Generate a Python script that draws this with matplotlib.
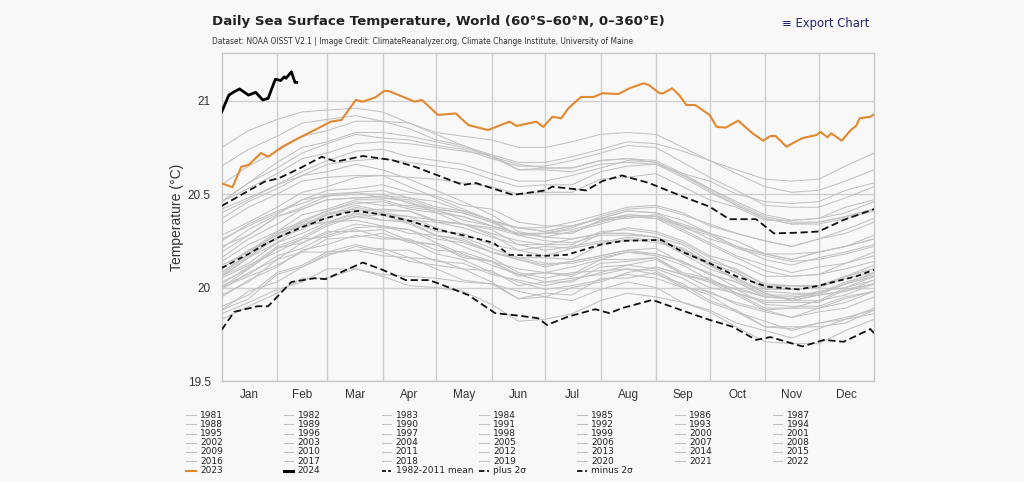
import numpy as np
import matplotlib
matplotlib.use("Agg")
import matplotlib.pyplot as plt
from matplotlib.lines import Line2D

# ---------------- data ----------------
DAYS = [0, 15, 31, 45, 59, 75, 90, 105, 120, 135, 151, 166, 181, 196, 212, 227,
        243, 258, 273, 288, 304, 319, 334, 349, 365]
N = None
years = {
    1981: [N, N, N, N, N, N, N, N, N, N, N, N, N, N, N, N,
           20.11, 20.07, 20.00, 19.97, 19.89, 19.89, 19.93, 19.96, 20.02],
    1982: [20.00, 20.06, 20.12, 20.19, 20.19, 20.20, 20.17, 20.16, 20.10, 20.04, 20.02, 19.98, 19.95,
           20.00, 20.03, 20.08, 20.11, 20.07, 20.03, 19.99, 19.95, 19.94, 19.97, 20.02, 20.08],
    1983: [20.08, 20.18, 20.29, 20.33, 20.40, 20.42, 20.39, 20.34, 20.28, 20.22, 20.16, 20.08, 20.05,
           20.08, 20.09, 20.10, 20.09, 20.01, 19.96, 19.87, 19.82, 19.77, 19.81, 19.84, 19.88],
    1984: [19.88, 19.98, 20.03, 20.11, 20.17, 20.22, 20.19, 20.14, 20.12, 20.10, 20.03, 19.94, 19.95,
           19.93, 19.99, 20.03, 20.00, 19.92, 19.87, 19.79, 19.71, 19.70, 19.70, 19.77, 19.83],
    1985: [19.83, 19.90, 19.97, 20.05, 20.05, 20.10, 20.06, 20.01, 20.00, 19.98, 19.91, 19.82, 19.83,
           19.86, 19.93, 19.97, 19.95, 19.92, 19.88, 19.81, 19.77, 19.73, 19.78, 19.83, 19.86],
    1986: [19.88, 19.94, 20.07, 20.11, 20.18, 20.20, 20.21, 20.16, 20.15, 20.10, 20.09, 20.01, 20.03,
           20.03, 20.11, 20.12, 20.15, 20.07, 20.04, 19.97, 19.93, 19.93, 19.93, 20.00, 20.04],
    1987: [20.06, 20.16, 20.27, 20.31, 20.39, 20.44, 20.41, 20.41, 20.35, 20.34, 20.28, 20.20, 20.22,
           20.21, 20.29, 20.29, 20.27, 20.23, 20.14, 20.10, 20.01, 20.01, 20.00, 20.05, 20.08],
    1988: [20.08, 20.18, 20.29, 20.33, 20.35, 20.36, 20.33, 20.31, 20.24, 20.18, 20.12, 20.07, 20.03,
           20.05, 20.07, 20.10, 20.07, 20.02, 19.93, 19.88, 19.79, 19.79, 19.79, 19.81, 19.88],
    1989: [19.86, 19.92, 19.99, 20.03, 20.10, 20.10, 20.07, 20.06, 20.05, 20.03, 20.02, 19.94, 19.97,
           19.96, 20.05, 20.05, 20.08, 20.00, 19.98, 19.91, 19.87, 19.84, 19.89, 19.92, 19.98],
    1990: [20.00, 20.10, 20.21, 20.26, 20.33, 20.38, 20.36, 20.36, 20.30, 20.29, 20.23, 20.20, 20.17,
           20.21, 20.24, 20.27, 20.25, 20.21, 20.12, 20.08, 19.99, 19.99, 20.00, 20.06, 20.10],
    1991: [20.10, 20.20, 20.26, 20.34, 20.35, 20.40, 20.36, 20.35, 20.28, 20.26, 20.19, 20.15, 20.11,
           20.14, 20.17, 20.20, 20.18, 20.14, 20.07, 20.03, 19.95, 19.94, 19.98, 20.00, 20.06],
    1992: [20.05, 20.12, 20.19, 20.26, 20.27, 20.31, 20.27, 20.25, 20.18, 20.15, 20.08, 20.03, 19.99,
           20.01, 20.04, 20.07, 20.05, 20.00, 19.92, 19.87, 19.79, 19.78, 19.81, 19.83, 19.89],
    1993: [19.90, 19.96, 20.08, 20.12, 20.19, 20.23, 20.20, 20.20, 20.14, 20.13, 20.07, 20.04, 20.01,
           20.04, 20.08, 20.12, 20.10, 20.05, 19.97, 19.92, 19.88, 19.84, 19.87, 19.89, 19.95],
    1994: [19.95, 20.04, 20.11, 20.20, 20.23, 20.28, 20.26, 20.26, 20.20, 20.19, 20.14, 20.10, 20.08,
           20.11, 20.15, 20.19, 20.18, 20.14, 20.07, 20.03, 19.96, 19.96, 19.97, 20.03, 20.07],
    1995: [20.07, 20.17, 20.27, 20.35, 20.37, 20.43, 20.40, 20.38, 20.32, 20.27, 20.21, 20.16, 20.13,
           20.13, 20.16, 20.19, 20.17, 20.12, 20.04, 19.99, 19.91, 19.90, 19.90, 19.95, 19.98],
    1996: [19.96, 20.03, 20.15, 20.19, 20.26, 20.27, 20.29, 20.24, 20.23, 20.17, 20.14, 20.06, 20.08,
           20.07, 20.15, 20.15, 20.16, 20.08, 20.05, 19.97, 19.92, 19.92, 19.92, 19.99, 20.02],
    1997: [20.02, 20.11, 20.22, 20.27, 20.34, 20.38, 20.39, 20.38, 20.36, 20.34, 20.32, 20.28, 20.29,
           20.32, 20.38, 20.42, 20.43, 20.39, 20.34, 20.29, 20.25, 20.22, 20.26, 20.29, 20.35],
    1998: [20.34, 20.43, 20.50, 20.57, 20.59, 20.60, 20.60, 20.54, 20.48, 20.42, 20.36, 20.28, 20.25,
           20.24, 20.28, 20.28, 20.27, 20.19, 20.12, 20.04, 19.97, 19.93, 19.96, 19.98, 20.04],
    1999: [20.03, 20.10, 20.21, 20.24, 20.30, 20.30, 20.31, 20.25, 20.23, 20.16, 20.14, 20.07, 20.08,
           20.06, 20.13, 20.14, 20.16, 20.07, 20.03, 19.96, 19.88, 19.89, 19.89, 19.94, 19.98],
    2000: [19.99, 20.08, 20.15, 20.24, 20.29, 20.34, 20.32, 20.31, 20.26, 20.24, 20.19, 20.15, 20.12,
           20.14, 20.17, 20.20, 20.21, 20.13, 20.08, 20.00, 19.95, 19.95, 19.96, 20.02, 20.06],
    2001: [20.06, 20.16, 20.24, 20.33, 20.39, 20.41, 20.42, 20.41, 20.36, 20.34, 20.29, 20.25, 20.23,
           20.26, 20.29, 20.32, 20.30, 20.25, 20.17, 20.13, 20.06, 20.06, 20.07, 20.13, 20.17],
    2002: [20.16, 20.26, 20.34, 20.42, 20.47, 20.48, 20.49, 20.48, 20.43, 20.41, 20.36, 20.32, 20.30,
           20.33, 20.37, 20.41, 20.40, 20.36, 20.29, 20.25, 20.18, 20.18, 20.19, 20.22, 20.26],
    2003: [20.26, 20.33, 20.40, 20.47, 20.49, 20.50, 20.50, 20.45, 20.42, 20.36, 20.33, 20.29, 20.27,
           20.30, 20.34, 20.38, 20.37, 20.33, 20.26, 20.22, 20.15, 20.12, 20.16, 20.19, 20.23],
    2004: [20.22, 20.28, 20.38, 20.42, 20.47, 20.48, 20.48, 20.47, 20.42, 20.40, 20.35, 20.28, 20.29,
           20.29, 20.36, 20.37, 20.39, 20.32, 20.28, 20.21, 20.17, 20.14, 20.15, 20.18, 20.22],
    2005: [20.21, 20.31, 20.39, 20.47, 20.52, 20.53, 20.55, 20.51, 20.49, 20.44, 20.42, 20.35, 20.33,
           20.33, 20.37, 20.38, 20.37, 20.30, 20.23, 20.16, 20.09, 20.06, 20.07, 20.10, 20.14],
    2006: [20.14, 20.23, 20.30, 20.39, 20.42, 20.47, 20.47, 20.43, 20.41, 20.38, 20.33, 20.29, 20.29,
           20.29, 20.36, 20.39, 20.38, 20.34, 20.29, 20.22, 20.18, 20.15, 20.19, 20.22, 20.26],
    2007: [20.25, 20.34, 20.41, 20.45, 20.50, 20.51, 20.48, 20.46, 20.40, 20.34, 20.31, 20.23, 20.20,
           20.22, 20.25, 20.25, 20.26, 20.18, 20.10, 20.05, 19.97, 19.93, 19.96, 19.98, 20.02],
    2008: [20.01, 20.07, 20.17, 20.21, 20.28, 20.32, 20.33, 20.29, 20.28, 20.25, 20.19, 20.16, 20.16,
           20.15, 20.23, 20.26, 20.24, 20.21, 20.13, 20.08, 20.00, 20.01, 20.01, 20.06, 20.10],
    2009: [20.10, 20.20, 20.28, 20.36, 20.41, 20.46, 20.44, 20.44, 20.42, 20.40, 20.35, 20.32, 20.32,
           20.35, 20.39, 20.43, 20.44, 20.40, 20.33, 20.29, 20.25, 20.22, 20.26, 20.31, 20.37],
    2010: [20.37, 20.46, 20.53, 20.60, 20.62, 20.66, 20.63, 20.58, 20.52, 20.46, 20.39, 20.30, 20.27,
           20.26, 20.29, 20.29, 20.27, 20.20, 20.12, 20.05, 19.98, 19.97, 19.97, 20.02, 20.06],
    2011: [20.06, 20.13, 20.24, 20.29, 20.35, 20.39, 20.40, 20.36, 20.35, 20.32, 20.27, 20.23, 20.23,
           20.23, 20.30, 20.31, 20.29, 20.24, 20.16, 20.09, 20.02, 20.01, 20.01, 20.06, 20.12],
    2012: [20.12, 20.19, 20.30, 20.35, 20.41, 20.45, 20.46, 20.42, 20.40, 20.38, 20.33, 20.29, 20.29,
           20.31, 20.35, 20.39, 20.38, 20.31, 20.24, 20.17, 20.12, 20.08, 20.11, 20.13, 20.19],
    2013: [20.19, 20.28, 20.38, 20.43, 20.49, 20.51, 20.52, 20.48, 20.46, 20.41, 20.36, 20.32, 20.30,
           20.33, 20.37, 20.41, 20.40, 20.33, 20.29, 20.22, 20.18, 20.15, 20.19, 20.22, 20.28],
    2014: [20.28, 20.35, 20.43, 20.51, 20.54, 20.59, 20.60, 20.59, 20.58, 20.56, 20.54, 20.50, 20.51,
           20.51, 20.58, 20.59, 20.61, 20.54, 20.47, 20.43, 20.36, 20.36, 20.37, 20.43, 20.47],
    2015: [20.46, 20.53, 20.61, 20.69, 20.72, 20.77, 20.78, 20.77, 20.75, 20.73, 20.71, 20.67, 20.67,
           20.70, 20.74, 20.78, 20.77, 20.73, 20.68, 20.63, 20.58, 20.57, 20.58, 20.65, 20.72],
    2016: [20.75, 20.84, 20.90, 20.94, 20.95, 20.96, 20.94, 20.88, 20.82, 20.76, 20.71, 20.63, 20.63,
           20.62, 20.66, 20.67, 20.66, 20.59, 20.51, 20.44, 20.37, 20.34, 20.35, 20.38, 20.42],
    2017: [20.46, 20.56, 20.67, 20.75, 20.78, 20.83, 20.83, 20.81, 20.78, 20.75, 20.70, 20.66, 20.64,
           20.64, 20.68, 20.69, 20.68, 20.61, 20.53, 20.45, 20.38, 20.35, 20.35, 20.38, 20.42],
    2018: [20.40, 20.47, 20.55, 20.60, 20.66, 20.68, 20.69, 20.67, 20.65, 20.63, 20.58, 20.54, 20.55,
           20.55, 20.62, 20.65, 20.66, 20.61, 20.57, 20.50, 20.46, 20.45, 20.46, 20.52, 20.56],
    2019: [20.55, 20.65, 20.73, 20.81, 20.84, 20.89, 20.89, 20.88, 20.83, 20.81, 20.79, 20.75, 20.75,
           20.78, 20.82, 20.83, 20.82, 20.75, 20.68, 20.61, 20.54, 20.51, 20.52, 20.57, 20.63],
    2020: [20.65, 20.74, 20.81, 20.88, 20.90, 20.92, 20.89, 20.85, 20.79, 20.76, 20.70, 20.63, 20.64,
           20.64, 20.68, 20.69, 20.67, 20.60, 20.52, 20.44, 20.37, 20.34, 20.34, 20.37, 20.41],
    2021: [20.42, 20.48, 20.55, 20.62, 20.68, 20.73, 20.74, 20.70, 20.68, 20.66, 20.61, 20.57, 20.57,
           20.60, 20.64, 20.68, 20.67, 20.60, 20.53, 20.46, 20.39, 20.36, 20.37, 20.40, 20.46],
    2022: [20.46, 20.56, 20.64, 20.72, 20.77, 20.82, 20.80, 20.79, 20.76, 20.74, 20.69, 20.65, 20.65,
           20.68, 20.72, 20.76, 20.75, 20.67, 20.59, 20.52, 20.44, 20.43, 20.43, 20.48, 20.54],
}

mean_days = [0, 15, 24, 32, 44, 58, 69, 76, 90, 106, 121, 135, 152, 161, 181, 193, 212, 225,
             246, 258, 273, 288, 305, 323, 334, 355, 365]
mean_vals = [20.105, 20.18, 20.23, 20.27, 20.32, 20.37, 20.40, 20.41, 20.39, 20.355, 20.31, 20.28,
             20.24, 20.175, 20.17, 20.175, 20.23, 20.25, 20.255, 20.19, 20.13, 20.06, 20.005, 19.99,
             20.01, 20.06, 20.095]

plus_days = [0, 24, 32, 44, 56, 64, 79, 95, 108, 121, 135, 142, 163, 181, 185, 204, 213, 224,
             239, 258, 273, 284, 299, 309, 323, 334, 348, 365]
plus_vals = [20.437, 20.567, 20.585, 20.64, 20.70, 20.674, 20.704, 20.683, 20.647, 20.60, 20.549,
             20.56, 20.496, 20.52, 20.54, 20.52, 20.57, 20.60, 20.56, 20.487, 20.433, 20.366, 20.366,
             20.29, 20.294, 20.30, 20.362, 20.42]

minus_days = [0, 7, 20, 26, 39, 52, 58, 79, 90, 103, 116, 121, 138, 153, 166, 177, 182, 194, 209,
              217, 224, 241, 262, 273, 286, 299, 307, 325, 337, 348, 363, 365]
minus_vals = [19.774, 19.87, 19.90, 19.90, 20.03, 20.05, 20.045, 20.134, 20.095, 20.04, 20.04, 20.023,
              19.96, 19.863, 19.85, 19.836, 19.80, 19.845, 19.884, 19.863, 19.89, 19.934, 19.863,
              19.827, 19.79, 19.72, 19.735, 19.685, 19.72, 19.71, 19.778, 19.756]

y2023_days = [0, 6, 11, 15, 22, 26, 34, 43, 52, 61, 67, 75, 79, 86, 91, 94, 108, 112, 121, 131, 138,
              149, 161, 165, 176, 180, 185, 190, 194, 201, 208, 213, 222, 228, 236, 239, 245, 247,
              252, 256, 260, 265, 273, 277, 282, 289, 297, 303, 307, 310, 316, 320, 325, 333, 335,
              339, 341, 347, 352, 355, 357, 363, 365]
y2023_vals = [20.558, 20.537, 20.647, 20.656, 20.72, 20.70, 20.754, 20.80, 20.843, 20.888, 20.897,
              21.004, 20.995, 21.018, 21.053, 21.05, 20.995, 21.004, 20.924, 20.932, 20.87, 20.843,
              20.888, 20.865, 20.888, 20.86, 20.914, 20.906, 20.96, 21.02, 21.02, 21.04, 21.036,
              21.066, 21.093, 21.084, 21.04, 21.04, 21.066, 21.03, 20.977, 20.977, 20.924, 20.86,
              20.856, 20.893, 20.826, 20.786, 20.811, 20.811, 20.754, 20.775, 20.80, 20.817, 20.834,
              20.804, 20.826, 20.786, 20.843, 20.865, 20.906, 20.914, 20.927]

y2024_days = [0, 4, 7, 10, 15, 19, 23, 26, 30, 33, 35, 36, 39, 41, 42]
y2024_vals = [20.94, 21.03, 21.048, 21.063, 21.03, 21.045, 21.004, 21.013, 21.115, 21.108, 21.128,
              21.12, 21.155, 21.098, 21.098]

month_labels = ["Jan", "Feb", "Mar", "Apr", "May", "Jun", "Jul", "Aug", "Sep", "Oct", "Nov", "Dec"]
month_starts = [0, 31, 59, 90, 120, 151, 181, 212, 243, 273, 304, 334, 365]
y_ticks = [19.5, 20, 20.5, 21]
y_tick_labels = ["19.5", "20", "20.5", "21"]

# ---------------- style ----------------
BG = "#f8f8f8"
GRAY = "#c2c2c2"
ORANGE = "#e2882f"
GRID = "#cfcfcf"
TXT = "#333333"

W, H = 1024, 482
fig = plt.figure(figsize=(W / 100, H / 100), dpi=100, facecolor=BG)
ax = fig.add_axes([221.7 / W, 1 - 381 / H, (874 - 221.7) / W, (381 - 52.7) / H])
ax.set_facecolor(BG)

for yr, vals in years.items():
    v = np.array([np.nan if x is None else x for x in vals], dtype=float)
    ax.plot(DAYS, v, color=GRAY, lw=0.75, zorder=2)

ax.plot(mean_days, mean_vals, color="#111111", lw=1.3, ls=(0, (3, 2)), zorder=3)
ax.plot(plus_days, plus_vals, color="#111111", lw=1.3, ls=(0, (4, 2)), zorder=3)
ax.plot(minus_days, minus_vals, color="#111111", lw=1.3, ls=(0, (4, 2)), zorder=3)
ax.plot(y2023_days, y2023_vals, color=ORANGE, lw=1.5, zorder=4)
ax.plot(y2024_days, y2024_vals, color="#000000", lw=2.0, zorder=5)

ax.set_xlim(0, 365)
ax.set_ylim(19.5, 21.257)
centers = [(month_starts[i] + month_starts[i + 1]) / 2 for i in range(12)]
ax.set_xticks(centers)
ax.set_xticklabels(month_labels, fontsize=8.5, color=TXT, family="Liberation Sans")
ax.set_xticks(month_starts[1:-1], minor=True)
ax.set_yticks(y_ticks)
ax.set_yticklabels(y_tick_labels, fontsize=8.5, color=TXT, family="Liberation Sans")
ax.tick_params(axis="both", which="both", length=0)
ax.tick_params(axis="x", pad=6)
ax.tick_params(axis="y", pad=8)
ax.grid(True, axis="x", which="minor", color=GRID, lw=1.0, zorder=0)
ax.grid(True, axis="y", which="major", color=GRID, lw=1.0, zorder=0)
ax.set_axisbelow(True)
for s in ax.spines.values():
    s.set_color("#c8c8c8")
    s.set_linewidth(1.0)

fig.text(177 / W, 1 - 217 / H, "Temperature (°C)", rotation=90, ha="center", va="center",
         fontsize=10, color=TXT, family="Liberation Sans")

# ---------------- header text ----------------
renderer = fig.canvas.get_renderer()


def fitted(x, y, s, target_w, size, **kw):
    t = fig.text(x / W, 1 - y / H, s, fontsize=size, va="center", **kw)
    bb = t.get_window_extent(renderer=renderer)
    t.set_fontsize(size * target_w / bb.width)
    return t


fitted(212, 22, "Daily Sea Surface Temperature, World (60°S–60°N, 0–360°E)", 452, 12,
       color="#222222", family="DejaVu Sans", weight="semibold")
fitted(212, 41, "Dataset: NOAA OISST V2.1 | Image Credit: ClimateReanalyzer.org, Climate Change Institute, University of Maine",
       425, 6.5, color="#333333", family="DejaVu Sans")
fitted(782, 23, "≡ Export Chart", 88, 9.5, color="#23236e", family="DejaVu Sans")

# ---------------- legend (row-major, 7 columns) ----------------
entries = [(str(y), dict(color=GRAY, lw=0.8)) for y in years]
entries += [("2023", dict(color=ORANGE, lw=1.5)),
            ("2024", dict(color="#000000", lw=2.2)),
            ("1982-2011 mean", dict(color="#111111", lw=1.3, ls=(0, (2.2, 1.2)))),
            ("plus 2σ", dict(color="#111111", lw=1.3, ls=(0, (3, 1.5, 1, 1.5)))),
            ("minus 2σ", dict(color="#111111", lw=1.3, ls=(0, (3, 1.5, 1, 1.5))))]
col_x = [186, 283.5, 381.5, 479, 577, 675, 772.5]
row_y0, row_dy = 415, 9.25
for i, (lab, st) in enumerate(entries):
    r, c = divmod(i, 7)
    x0 = col_x[c]
    y0 = row_y0 + r * row_dy
    fig.add_artist(Line2D([x0 / W, (x0 + 9.5) / W], [1 - y0 / H, 1 - y0 / H],
                          transform=fig.transFigure, **st))
    fig.text((x0 + 14) / W, 1 - y0 / H, lab, fontsize=6.5, color="#222222", va="center",
             family="DejaVu Sans")

fig.savefig("out.png", dpi=100, facecolor=BG)
